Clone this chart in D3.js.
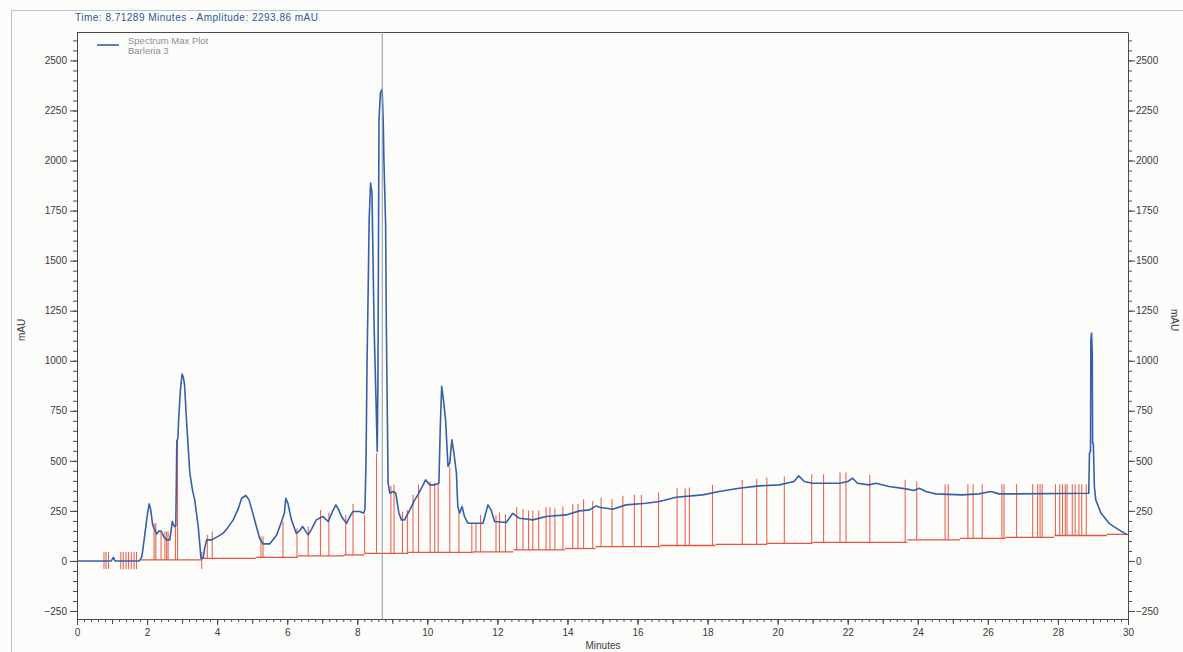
<!DOCTYPE html>
<html>
<head>
<meta charset="utf-8">
<script src="https://cdn.jsdelivr.net/npm/d3@7"></script>
<style>
  html, body { margin: 0; padding: 0; background: #fcfcfb; }
  svg { display: block; font-family: "Liberation Sans", Arial, sans-serif; }
</style>
</head>
<body>
<svg id="chart" width="1183" height="652"></svg>
<script>
// Detector trace (Spectrum Max Plot), time in minutes, amplitude in mAU
const traceTime = [
  0, 0.98, 1.04, 1.08, 1.10, 1.78, 1.85, 1.92, 2.00, 2.06, 2.10, 2.16, 2.27, 2.34, 2.41, 2.48,
  2.56, 2.65, 2.70, 2.72, 2.78, 2.82, 2.85, 2.88, 2.90, 2.95, 3.00, 3.04, 3.07, 3.13, 3.22, 3.30,
  3.36, 3.46, 3.54, 3.60, 3.64, 3.70, 3.84, 4.00, 4.17, 4.30, 4.46, 4.60, 4.70, 4.82, 4.91, 5.00,
  5.12, 5.22, 5.31, 5.50, 5.70, 5.84, 5.92, 5.96, 6.02, 6.12, 6.26, 6.35, 6.44, 6.52, 6.60, 6.70,
  6.83, 7.02, 7.12, 7.17, 7.30, 7.39, 7.47, 7.55, 7.69, 7.80, 7.88, 8.07, 8.18, 8.22, 8.25, 8.28,
  8.31, 8.34, 8.38, 8.42, 8.45, 8.48, 8.53, 8.57, 8.59, 8.60, 8.62, 8.66, 8.71, 8.74, 8.76, 8.81,
  8.83, 8.86, 8.88, 8.93, 9.02, 9.10, 9.19, 9.26, 9.35, 9.50, 9.64, 9.73, 9.83, 9.95, 10.07, 10.21,
  10.33, 10.37, 10.41, 10.46, 10.52, 10.59, 10.64, 10.70, 10.76, 10.83, 10.87, 10.92, 10.99, 11.06, 11.16, 11.59,
  11.73, 11.82, 11.92, 12.25, 12.44, 12.63, 13.01, 13.39, 13.96, 14.34, 14.63, 14.82, 14.91, 15.29, 15.67, 16.24,
  16.62, 17.10, 17.86, 18.33, 18.90, 19.47, 20.05, 20.47, 20.60, 20.76, 20.99, 21.76, 22.00, 22.14, 22.28, 22.61,
  22.80, 23.18, 23.66, 23.89, 24.04, 24.23, 24.51, 25.27, 25.75, 26.08, 26.32, 26.80, 28.88, 28.90, 28.93, 28.94,
  28.96, 28.98, 28.99, 29.01, 29.04, 29.08, 29.23, 29.46, 29.74, 29.98
];
const traceValue = [
  0, 0, 18, 2, 0, 0, 20, 110, 220, 285, 260, 180, 135, 150, 147, 120,
  105, 105, 170, 197, 172, 175, 600, 613, 700, 850, 933, 915, 880, 690, 440, 350,
  305, 172, 13, 13, 60, 105, 105, 120, 138, 165, 205, 260, 313, 327, 305, 250,
  172, 110, 85, 85, 130, 197, 240, 313, 288, 205, 138, 150, 172, 150, 130, 160,
  205, 222, 205, 197, 250, 280, 255, 222, 188, 225, 247, 247, 238, 260, 500, 1000,
  1338, 1705, 1888, 1838, 1505, 1172, 838, 547, 900, 1338, 2205, 2338, 2355, 2200, 2005, 1672,
  1172, 700, 388, 338, 347, 338, 238, 205, 205, 255, 305, 330, 363, 405, 380, 380,
  388, 672, 872, 805, 705, 472, 488, 605, 538, 438, 272, 238, 272, 222, 188, 188,
  280, 255, 197, 192, 238, 213, 205, 222, 230, 250, 255, 275, 268, 258, 280, 288,
  297, 318, 330, 347, 363, 375, 380, 397, 425, 397, 388, 388, 397, 413, 388, 380,
  388, 372, 360, 352, 363, 347, 335, 330, 335, 347, 335, 335, 338, 538, 547, 1105,
  1138, 1038, 588, 588, 372, 305, 238, 188, 155, 130
];

// Integration baseline: start time of each segment and its level (mAU)
const baselineStart = [1.80, 3.57, 5.10, 6.30, 7.62, 8.20, 9.45, 11.30, 12.45, 13.93, 14.80, 16.65, 18.22, 19.70, 21.00, 23.70, 25.20, 26.50, 27.90, 29.40];
const baselineLevel = [5, 13, 18, 25, 30, 38, 43, 45, 55, 62, 72, 77, 83, 88, 93, 105, 113, 118, 127, 133];
const baselineEnd = 30;

// Peak start/stop drop lines: time and top amplitude
const peakMarkTime = [
  2.20, 2.25, 2.40, 2.51, 2.56, 2.60, 2.81, 2.87, 3.72, 3.86, 5.25, 5.31, 5.88, 6.28, 6.60, 6.95,
  7.19, 7.67, 7.88, 8.21, 8.55, 8.96, 9.05, 9.29, 9.43, 9.59, 9.75, 10.08, 10.21, 10.31, 10.64, 10.90,
  11.27, 11.39, 11.52, 11.96, 12.06, 12.23, 12.55, 12.73, 12.89, 13.01, 13.18, 13.39, 13.50, 13.64, 13.87, 14.15,
  14.30, 14.46, 14.72, 14.96, 15.27, 15.58, 15.91, 16.11, 16.60, 17.13, 17.36, 17.48, 18.14, 18.99, 19.40, 19.69,
  20.19, 20.97, 21.31, 21.78, 21.95, 22.63, 23.64, 23.97, 24.78, 24.87, 25.43, 25.58, 25.84, 26.40, 26.46, 26.82,
  27.28, 27.42, 27.49, 27.55, 27.93, 28.05, 28.13, 28.21, 28.26, 28.41, 28.49, 28.60, 28.68, 28.81
];
const peakMarkTop = [
  188, 188, 155, 147, 147, 147, 172, 613, 130, 147, 122, 122, 197, 163, 172, 255,
  242, 230, 285, 230, 538, 375, 380, 247, 255, 330, 380, 397, 390, 390, 470, 238,
  188, 188, 230, 230, 242, 233, 268, 258, 252, 252, 252, 268, 268, 262, 272, 285,
  285, 308, 300, 317, 310, 325, 330, 330, 342, 363, 363, 367, 380, 405, 410, 417,
  422, 433, 433, 442, 442, 430, 405, 397, 383, 383, 383, 383, 383, 383, 383, 383,
  383, 383, 383, 383, 383, 383, 383, 383, 383, 383, 383, 383, 383, 383
];

// Short event ticks straddling zero before the first peak
const eventTickTime = [0.77, 0.83, 0.90, 1.25, 1.32, 1.40, 1.47, 1.55, 1.63, 1.70, 3.56];
const eventTickLow = -40;
const eventTickHigh = 45;

// Axis tick values
const xTickLabels = [0, 2, 4, 6, 8, 10, 12, 14, 16, 18, 20, 22, 24, 26, 28, 30];
const yTickLabels = [-250, 0, 250, 500, 750, 1000, 1250, 1500, 1750, 2000, 2250, 2500];

// Cursor readout
const cursorTime = 8.71289;
const cursorAmp = 2293.86;
const seriesNames = ["Spectrum Max Plot", "Barleria 3"];

const svg = d3.select("#chart");
const plotLeft = 77, plotRight = 1128, plotTop = 32, plotBottom = 619;

const x = d3.scaleLinear().domain([0, 30]).range([plotLeft, plotRight]);
const y = d3.scaleLinear().domain([-290, 2642]).range([plotBottom, plotTop]);

const axisColor = "#4a4a4a";
const labelColor = "#3a3a3a";
const blue = "#3560a8";
const red = "#e5563f";

// Outer page frame
svg.append("rect")
  .attr("x", 11.5).attr("y", 10.5).attr("width", 1190).attr("height", 660)
  .attr("fill", "none").attr("stroke", "#b9c4cc").attr("stroke-width", 1);

// Plot frame (top edge)
svg.append("line")
  .attr("x1", plotLeft).attr("x2", plotRight).attr("y1", plotTop + 0.5).attr("y2", plotTop + 0.5)
  .attr("stroke", axisColor).attr("stroke-width", 1);

function styleAxis(g) {
  g.selectAll("path.domain").attr("stroke", axisColor);
  g.selectAll(".tick line").attr("stroke", axisColor);
  g.selectAll(".tick text").attr("fill", labelColor).attr("font-size", 10)
    .attr("font-family", "'Liberation Sans', Arial, sans-serif");
}

// Minor ticks
const yMinor = d3.range(-250, 2601, 50);
const xMinor = d3.range(0, 30.001, 0.2).map(v => +v.toFixed(1));
const xMid = d3.range(1, 30, 1);

svg.append("g").attr("transform", `translate(${plotLeft},0)`)
  .call(d3.axisLeft(y).tickValues(yMinor).tickSize(4).tickFormat(""))
  .call(g => g.select(".domain").remove()).call(styleAxis);
svg.append("g").attr("transform", `translate(${plotRight},0)`)
  .call(d3.axisRight(y).tickValues(yMinor).tickSize(4).tickFormat(""))
  .call(g => g.select(".domain").remove()).call(styleAxis);
svg.append("g").attr("transform", `translate(0,${plotBottom})`)
  .call(d3.axisBottom(x).tickValues(xMinor).tickSize(3).tickFormat(""))
  .call(g => g.select(".domain").remove()).call(styleAxis);
svg.append("g").attr("transform", `translate(0,${plotBottom})`)
  .call(d3.axisBottom(x).tickValues(xMid).tickSize(5).tickFormat(""))
  .call(g => g.select(".domain").remove()).call(styleAxis);

// Major axes
svg.append("g").attr("transform", `translate(${plotLeft},0)`)
  .call(d3.axisLeft(y).tickValues(yTickLabels).tickSize(7).tickSizeOuter(0).tickPadding(3).tickFormat(d3.format("d")))
  .call(styleAxis);
svg.append("g").attr("transform", `translate(${plotRight},0)`)
  .call(d3.axisRight(y).tickValues(yTickLabels).tickSize(7).tickSizeOuter(0).tickPadding(1).tickFormat(d3.format("d")))
  .call(styleAxis);
svg.append("g").attr("transform", `translate(0,${plotBottom})`)
  .call(d3.axisBottom(x).tickValues(xTickLabels).tickSize(6).tickSizeOuter(0).tickPadding(4).tickFormat(d3.format("d")))
  .call(styleAxis);

// Axis titles
svg.append("text").attr("transform", "translate(25,330) rotate(-90)")
  .attr("text-anchor", "middle").attr("font-size", 10).attr("fill", labelColor).text("mAU");
svg.append("text").attr("transform", "translate(1171,320) rotate(90)")
  .attr("text-anchor", "middle").attr("font-size", 10).attr("fill", labelColor).text("mAU");
svg.append("text").attr("x", 603).attr("y", 649)
  .attr("text-anchor", "middle").attr("font-size", 10).attr("fill", labelColor).text("Minutes");

// Cursor readout
svg.append("text").attr("x", 75).attr("y", 21)
  .attr("font-size", 10).attr("fill", "#2b5795").attr("textLength", 243)
  .text(`Time:  ${cursorTime} Minutes - Amplitude:  ${cursorAmp} mAU`);

// Legend
svg.append("line").attr("x1", 97).attr("x2", 119).attr("y1", 45).attr("y2", 45)
  .attr("stroke", blue).attr("stroke-width", 1.6);
svg.selectAll("text.legend").data(seriesNames).join("text")
  .attr("class", "legend")
  .attr("x", 128).attr("y", (d, i) => 44 + i * 10)
  .attr("font-size", 9.5).attr("fill", "#8e8e8e").text(d => d);

// Baseline
const baseSegs = baselineStart.map((s, i) => ({
  t0: s, t1: i + 1 < baselineStart.length ? baselineStart[i + 1] : baselineEnd, v: baselineLevel[i]
}));
function baseAt(t) {
  let v = baselineLevel[0];
  for (let i = 0; i < baselineStart.length; i++) if (t >= baselineStart[i]) v = baselineLevel[i];
  return v;
}

// Drop lines from baseline to peak marks
svg.append("g").selectAll("line").data(peakMarkTime.map((t, i) => ({ t, top: peakMarkTop[i] })))
  .join("line")
  .attr("x1", d => x(d.t)).attr("x2", d => x(d.t))
  .attr("y1", d => y(baseAt(d.t))).attr("y2", d => y(d.top))
  .attr("stroke", red).attr("stroke-width", 1.1).attr("stroke-opacity", 0.9);

svg.append("g").selectAll("line").data(eventTickTime).join("line")
  .attr("x1", d => x(d)).attr("x2", d => x(d))
  .attr("y1", y(eventTickLow)).attr("y2", y(eventTickHigh))
  .attr("stroke", red).attr("stroke-width", 1.1).attr("stroke-opacity", 0.9);

svg.append("g").selectAll("line").data(baseSegs).join("line")
  .attr("x1", d => x(d.t0)).attr("x2", d => x(d.t1))
  .attr("y1", d => y(d.v)).attr("y2", d => y(d.v))
  .attr("stroke", red).attr("stroke-width", 1.3);

// Detector trace
const trace = traceTime.map((t, i) => [t, traceValue[i]]);
svg.append("path").datum(trace)
  .attr("fill", "none").attr("stroke", blue).attr("stroke-width", 1.6)
  .attr("stroke-linejoin", "round")
  .attr("d", d3.line().x(d => x(d[0])).y(d => y(d[1])));

// Cursor line
svg.append("line")
  .attr("x1", x(cursorTime)).attr("x2", x(cursorTime))
  .attr("y1", plotTop).attr("y2", plotBottom)
  .attr("stroke", "#8c93a6").attr("stroke-width", 1);
</script>
</body>
</html>
